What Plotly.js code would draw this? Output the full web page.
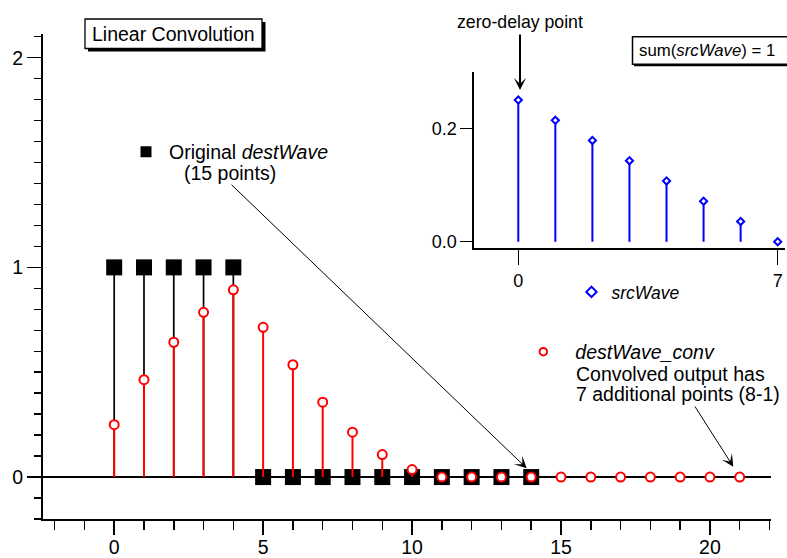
<!DOCTYPE html>
<html><head><meta charset="utf-8">
<script src="https://cdn.plot.ly/plotly-3.0.1.min.js"></script>
<style>html,body{margin:0;padding:0;background:#fff}#chart{width:787px;height:558px}</style>
</head><body><div id="chart"></div>
<script>
// ---- data ----
const destIndex = [0,1,2,3,4,5,6,7,8,9,10,11,12,13,14];
const destWave  = [1,1,1,1,1,0,0,0,0,0,0,0,0,0,0];
const convIndex = [0,1,2,3,4,5,6,7,8,9,10,11,12,13,14,15,16,17,18,19,20,21];
const destWaveConv = [0.25,0.4643,0.6429,0.7857,0.8929,0.7143,0.5357,0.3571,0.2143,0.1071,0.0357,0,0,0,0,0,0,0,0,0,0,0];
const srcIndex = [0,1,2,3,4,5,6,7];
const srcWave  = [0.25,0.2143,0.1786,0.1429,0.1071,0.0714,0.0357,0];
const insetXTicks = [0,7];
const insetYTicks = [0,0.2];
const insetYLabels = ['0.0','0.2'];

// ---- geometry helpers (pixel -> paper) ----
const ML = 43, MR = 2, MT = 34, MB = 39, W = 787, H = 558;
const PW = W - ML - MR, PH = H - MT - MB;
const X = px => (px - ML) / PW;
const Y = py => (H - MB - py) / PH;

function stems(xs, ys) {
  const sx = [], sy = [];
  xs.forEach((x, i) => { sx.push(x, x, null); sy.push(0, ys[i], null); });
  return {sx, sy};
}
const FONT = 'Liberation Sans, Arial, Helvetica, sans-serif';
const dS = stems(destIndex, destWave);
const cS = stems(convIndex, destWaveConv);
const sS = stems(srcIndex, srcWave);

const traces = [
  {x: dS.sx, y: dS.sy, mode: 'lines', line: {color: '#000', width: 1.7}, showlegend: false, hoverinfo: 'skip'},
  {x: destIndex, y: destWave, mode: 'markers', marker: {symbol: 'square', size: 16, color: '#000'}, showlegend: false},
  {x: cS.sx, y: cS.sy, mode: 'lines', line: {color: '#ff0000', width: 2}, showlegend: false, hoverinfo: 'skip'},
  {x: convIndex, y: destWaveConv, mode: 'markers', marker: {symbol: 'circle', size: 9, color: '#fff', line: {color: '#ff0000', width: 2}}, showlegend: false},
  {x: sS.sx, y: sS.sy, xaxis: 'x2', yaxis: 'y2', mode: 'lines', line: {color: '#0000ff', width: 2}, showlegend: false, hoverinfo: 'skip'},
  {x: srcIndex, y: srcWave, xaxis: 'x2', yaxis: 'y2', mode: 'markers', marker: {symbol: 'diamond', size: 5.5, color: '#fff', line: {color: '#0000ff', width: 2}}, showlegend: false},
  // legend entries
  {x: [null], y: [null], mode: 'markers', name: 'Original <i>destWave</i>', legend: 'legend', showlegend: true,
   marker: {symbol: 'square', size: 11, color: '#000'}},
  {x: [null], y: [null], mode: 'markers', name: '<i>destWave_conv</i>', legend: 'legend2', showlegend: true,
   marker: {symbol: 'circle', size: 7.5, color: '#fff', line: {color: '#ff0000', width: 2}}},
  {x: [null], y: [null], mode: 'markers', name: '<i>srcWave</i>', legend: 'legend3', showlegend: true,
   marker: {symbol: 'diamond', size: 8, color: '#fff', line: {color: '#0000ff', width: 2}}}
];

const legBase = {bgcolor: 'rgba(0,0,0,0)', borderwidth: 0, font: {family: FONT, size: 19.5, color: '#000'},
  xanchor: 'left', yanchor: 'middle', orientation: 'v'};

function txt(text, px, py, size, opts) {
  return Object.assign({xref: 'paper', yref: 'paper', x: X(px), y: Y(py), text: text, showarrow: false,
    xanchor: 'left', yanchor: 'middle', borderpad: 0, font: {family: FONT, size: size, color: '#000'}}, opts || {});
}
function arrow(tipX, tipY, tailX, tailY, width, size) {
  return {xref: 'paper', yref: 'paper', x: X(tipX), y: Y(tipY), axref: 'pixel', ayref: 'pixel',
    ax: tailX - tipX, ay: tailY - tipY, text: '', showarrow: true, arrowhead: 3, arrowsize: size,
    arrowwidth: width, arrowcolor: '#000', standoff: 0, startstandoff: 0};
}
function rect(x0, y0, x1, y1, fill, lw) {
  return {type: 'rect', xref: 'paper', yref: 'paper', x0: X(x0), x1: X(x1), y0: Y(y0), y1: Y(y1),
    fillcolor: fill, line: {color: '#000', width: lw}, layer: 'above'};
}

const layout = {
  width: W, height: H,
  margin: {l: ML, r: MR, t: MT, b: MB, pad: 0},
  paper_bgcolor: '#fff', plot_bgcolor: 'rgba(0,0,0,0)',
  font: {family: FONT, color: '#000', size: 19.5},
  showlegend: true,
  hovermode: false,
  xaxis: {domain: [0, (771 - ML) / PW], range: [-2.39, 22.05], showgrid: false, zeroline: false,
    showline: true, linecolor: '#000', linewidth: 2, ticks: 'outside', tick0: 0, dtick: 5,
    ticklen: 14, tickwidth: 1.5, tickcolor: '#000', ticklabelstandoff: -4,
    tickfont: {family: FONT, size: 19.5, color: '#000'},
    minor: {ticks: 'outside', dtick: 1, tick0: 0, ticklen: 9, tickwidth: 1.5, tickcolor: '#000', showgrid: false},
    fixedrange: true},
  yaxis: {domain: [0, 1], range: [-0.2, 2.113], showgrid: false, zeroline: true, zerolinecolor: '#000', zerolinewidth: 1.7,
    showline: true, linecolor: '#000', linewidth: 2, ticks: 'outside', tick0: 0, dtick: 1,
    ticklen: 14, tickwidth: 1.5, tickcolor: '#000', tickfont: {family: FONT, size: 19.5, color: '#000'},
    minor: {ticks: 'outside', dtick: 0.1, tick0: 0, ticklen: 7, tickwidth: 1.5, tickcolor: '#000', showgrid: false},
    fixedrange: true},
  xaxis2: {domain: [X(474), 1], range: [-1.195, 7.197], anchor: 'y2', showgrid: false, zeroline: false,
    showline: true, linecolor: '#000', linewidth: 1.7, ticks: 'outside', tickvals: insetXTicks,
    ticklen: 15, tickwidth: 1.5, tickcolor: '#000', tickfont: {family: FONT, size: 18, color: '#000'}, fixedrange: true},
  yaxis2: {domain: [Y(248.3), Y(71.7)], range: [-0.0117, 0.3], anchor: 'x2', showgrid: false, zeroline: false,
    showline: true, linecolor: '#000', linewidth: 1.7, ticks: 'outside', tickvals: insetYTicks, ticktext: insetYLabels,
    ticklen: 12, tickwidth: 1.5, tickcolor: '#000', tickfont: {family: FONT, size: 18, color: '#000'}, fixedrange: true},
  legend:  Object.assign({}, legBase, {x: X(146 - 23), y: Y(152), itemwidth: 36}),
  legend2: Object.assign({}, legBase, {x: X(543.3 - 32), y: Y(352), itemwidth: 54}),
  legend3: Object.assign({}, legBase, {x: X(571.5), y: Y(292), itemwidth: 30, font: {family: FONT, size: 17.5, color: '#000'}}),
  shapes: [
    rect(88, 22, 265.5, 51.5, '#000', 0),
    rect(85, 19, 262, 48.5, '#fff', 1.3),
    rect(634, 38.7, 800, 66.3, '#000', 0),
    rect(632.5, 36.7, 800, 64.3, '#fff', 1.5)
  ],
  annotations: [
    txt('Linear Convolution', 173.5, 33.5, 19.5, {xanchor: 'center'}),
    txt('zero-delay point', 520, 22, 17.7, {xanchor: 'center'}),
    arrow(520, 90, 520, 33, 2, 1),
    txt('sum(<i>srcWave</i>) = 1', 637.5, 50.5, 16.8),
    txt('(15 points)', 182.5, 173, 19.5),
    arrow(526.7, 468.3, 230, 183.3, 1, 2),
    txt('Convolved output has', 574.5, 373.5, 19.5),
    txt('7 additional points (8-1)', 574.5, 394, 19.5),
    arrow(733.3, 466.7, 694, 405, 1, 2)
  ]
};

Plotly.newPlot('chart', traces, layout, {displayModeBar: false, staticPlot: true});
</script>
</body></html>
